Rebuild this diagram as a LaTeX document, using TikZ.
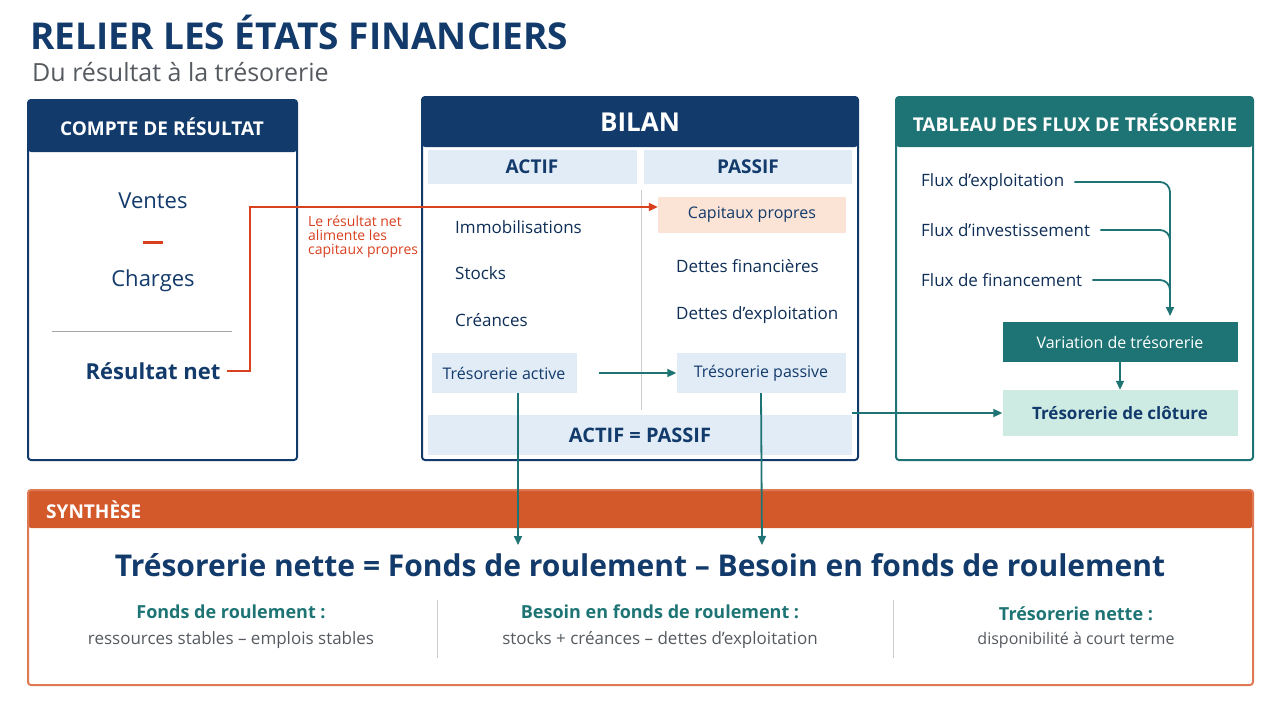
\documentclass[tikz,border=0pt]{standalone}
\usepackage{fontspec}
\setmainfont{Open Sans}
\usetikzlibrary{positioning,arrows.meta}
\definecolor{navy}{HTML}{123A6B}
\definecolor{tealc}{HTML}{1E7474}
\definecolor{orangec}{HTML}{D4592A}
\definecolor{redc}{HTML}{D9401E}
\definecolor{lblue}{HTML}{E1ECF6}
\definecolor{lorange}{HTML}{FBE3D6}
\definecolor{lteal}{HTML}{CDEAE3}
\definecolor{grayt}{HTML}{555A60}
\newcommand{\fs}[1]{\fontsize{#1}{#1}\selectfont}
\begin{document}
\begin{tikzpicture}[x=1pt,y=-1pt,
   panel/.style={draw=#1,line width=2pt,rounded corners=3pt},
   head/.style={fill=#1,rounded corners=3pt},
   item/.style={anchor=west,text=navy!80!black,font=\fs{17}},
   cell/.style={fill=#1,minimum height=40pt,font=\fs{16},text=navy},
   to/.style={-{Triangle[length=9pt,width=8pt]},line width=1.8pt,tealc},
   every node/.style={inner sep=0pt}]
\useasboundingbox (0,0) rectangle (1280,720);
% titre
\node[anchor=west,font=\bfseries\fs{37},text=navy] (titre) at (30,32) {RELIER LES ÉTATS FINANCIERS};
\node[anchor=west,font=\fs{25},text=grayt] (sous) at (32,72) {Du résultat à la trésorerie};
% compte de resultat
\fill[head=navy] (28,100) rectangle (297,152);
\draw[panel=navy] (28,100) rectangle (297,460);
\node[font=\bfseries\fs{19},text=white] (CRh) at (162,127) {COMPTE DE RÉSULTAT};
\node[font=\fs{22},text=navy] (V) at (153,201) {Ventes};
\node[fill=redc,minimum width=20pt,minimum height=3pt] (moins) at (153,242) {};
\node[font=\fs{22},text=navy] (Ch) at (153,281) {Charges};
\draw[gray!70,line width=1pt] (52,331) -- (232,331);
\node[font=\bfseries\fs{22},text=navy] (RN) at (153,371) {Résultat net};
% bilan
\fill[head=navy] (422,97) rectangle (858,147);
\draw[panel=navy] (422,97) rectangle (858,460);
\node[font=\bfseries\fs{26},text=white] (Bh) at (640,122) {BILAN};
\fill[lblue] (428,150) rectangle (637,184);
\fill[lblue] (644,150) rectangle (852,184);
\node[font=\bfseries\fs{19},text=navy] (A) at (532,167) {ACTIF};
\node[font=\bfseries\fs{19},text=navy] (P) at (748,167) {PASSIF};
\draw[gray!40,line width=1pt] (641,190) -- (641,410);
\node[item] (Im) at (455,227) {Immobilisations};
\node[item] (St) at (455,273) {Stocks};
\node[item] (Cr) at (455,320) {Créances};
\node[cell=lblue,minimum width=145pt] (TA) at (504,373) {Trésorerie active};
\node[cell=lorange,minimum width=188pt,minimum height=36pt] (CP) at (752,215) {Capitaux propres};
\node[item] (DF) at (676,266) {Dettes financières};
\node[item] (DE) at (676,315) {Dettes d’exploitation};
\node[cell=lblue,minimum width=169pt] (TP) at (761,373) {Trésorerie passive};
\node[cell=lblue,minimum width=424pt,font=\bfseries\fs{20}] (AP) at (640,435) {ACTIF = PASSIF};
% tableau des flux
\fill[head=tealc] (896,97) rectangle (1253,147);
\draw[panel=tealc] (896,97) rectangle (1253,460);
\node[font=\bfseries\fs{19},text=white] (Th) at (1075,123) {TABLEAU DES FLUX DE TRÉSORERIE};
\node[item] (F1) at (921,182) {Flux d’exploitation};
\node[item] (F2) at (921,230) {Flux d’investissement};
\node[item] (F3) at (921,280) {Flux de financement};
\node[cell=tealc,text=white,minimum width=235pt,font=\fs{16}] (VT) at (1120,342) {Variation de trésorerie};
\node[cell=lteal,minimum width=235pt,minimum height=46pt,font=\bfseries\fs{17}] (TC) at (1120,413) {Trésorerie de clôture};
\draw[line width=1.8pt,tealc,rounded corners=10pt] ([xshift=10pt]F1.east) -- (1170,182) -- (1170,300);
\draw[line width=1.8pt,tealc,rounded corners=10pt] ([xshift=10pt]F2.east) -- (1170,230) -- (1170,260);
\draw[to,rounded corners=10pt] ([xshift=10pt]F3.east) -- (1170,280) -- (1170,316);
\draw[to] (VT.south) -- (TC.north);
\draw[to] (AP.east |- TC) -- (TC.west);
% liens
\draw[-{Triangle[length=9pt,width=8pt]},line width=1.8pt,redc] ([xshift=6pt]RN.east) -- (250,371) -- (250,207) -- (CP.west |- 0,207);
\node[anchor=north west,align=left,font=\fs{14},text=redc] (lab) at (308,216) {Le résultat net\\alimente les\\capitaux propres};
\draw[to] ([xshift=22pt]TA.east) -- (TP.west);
% synthese
\fill[head=orangec] (28,490) rectangle (1253,528);
\draw[panel=orangec!80] (28,490) rectangle (1253,685);
\node[anchor=west,font=\bfseries\fs{19},text=white] (Sh) at (46,510) {SYNTHÈSE};
\draw[to] (TA.south -| 518,0) -- (518,545);
\draw[to] (TP.south) -- (762,545);
\node[font=\bfseries\fs{30},text=navy] (form) at (640,565) {Trésorerie nette = Fonds de roulement -- Besoin en fonds de roulement};
\draw[gray!40,line width=1pt] (437,600) -- (437,658);
\draw[gray!40,line width=1pt] (893,600) -- (893,658);
\node[font=\bfseries\fs{18},text=tealc] (FR) at (231,612) {Fonds de roulement :};
\node[font=\fs{17},text=grayt] (FRt) at (231,640) {ressources stables -- emplois stables};
\node[font=\bfseries\fs{18},text=tealc] (BF) at (660,612) {Besoin en fonds de roulement :};
\node[font=\fs{17},text=grayt] (BFt) at (660,640) {stocks + créances -- dettes d’exploitation};
\node[font=\bfseries\fs{18},text=tealc] (TN) at (1076,614) {Trésorerie nette :};
\node[font=\fs{16},text=grayt] (TNt) at (1076,640) {disponibilité à court terme};
\end{tikzpicture}
\end{document}
